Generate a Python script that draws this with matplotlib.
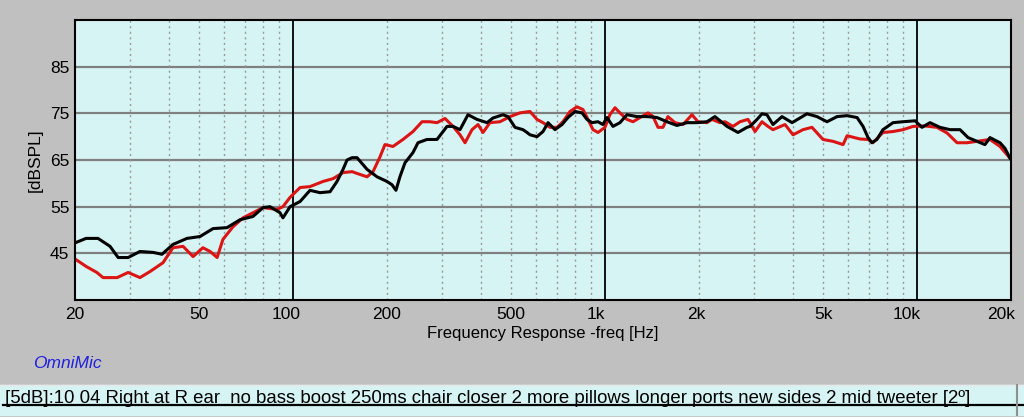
import matplotlib
matplotlib.use("Agg")
import matplotlib.pyplot as plt
from matplotlib.transforms import ScaledTranslation

# black trace (frequency Hz, dB SPL)
black_freq = [20.1, 21.7, 23.7, 25.9, 27.5, 29.6, 32.3, 35.6, 38.0, 41.2,
              45.7, 50.3, 55.4, 61.4, 67.6, 74.4, 80.1, 84.3, 90.8, 92.8,
              97.8, 105.3, 113.3, 122, 131.4, 138.3, 144.6, 148.9, 154.5, 160.3,
              172.6, 185.8, 200, 207.5, 213.7, 220, 228.4, 242.3, 251.4, 268.7,
              289.3, 311.4, 325.5, 342.8, 363.6, 388.6, 418.4, 437.2, 470.7, 488.4,
              514.3, 545.6, 561.9, 574.5, 605, 632.5, 656.3, 691, 727.7, 760.6,
              801, 843.4, 875, 908, 949, 984, 1014, 1060, 1116, 1175,
              1265, 1362, 1467, 1579, 1700, 1830, 1970, 2121, 2250, 2459,
              2667, 2850, 2915, 3069, 3183, 3302, 3452, 3690, 3975, 4437,
              4777, 5145, 5540, 5966, 6422, 6711, 6964, 7165, 7434, 7773,
              8372, 9017, 9850, 10370, 11000, 11840, 12750, 13730, 14570, 15560,
              16500, 17130, 18440, 19130, 19850]
black_db = [47.3, 48.2, 48.2, 46.5, 44.1, 44.1, 45.4, 45.2, 44.8, 46.9,
            48.2, 48.6, 50.3, 50.5, 52.2, 52.9, 54.8, 55.0, 53.7, 52.6,
            55.0, 56.1, 58.5, 58.0, 58.2, 60.4, 63.0, 65.0, 65.5, 65.5,
            63.0, 61.4, 60.4, 59.7, 58.5, 61.4, 64.4, 66.6, 68.7, 69.4,
            69.4, 72.2, 72.2, 71.5, 74.7, 73.7, 73.0, 74.0, 74.7, 74.3,
            72.0, 71.5, 70.9, 70.4, 70.0, 71.1, 73.0, 71.5, 72.6, 74.1,
            75.4, 75.1, 73.7, 73.0, 73.2, 72.6, 74.1, 72.2, 73.0, 74.7,
            74.3, 74.3, 74.1, 73.2, 72.4, 73.0, 73.0, 73.2, 74.3, 72.2,
            70.9, 72.0, 72.2, 73.7, 74.9, 74.7, 72.6, 74.3, 73.0, 74.9,
            74.3, 73.2, 74.3, 74.5, 74.1, 72.2, 69.8, 68.7, 69.4, 71.5,
            73.0, 73.2, 73.4, 72.0, 73.0, 72.0, 71.5, 71.5, 69.8, 69.0,
            68.3, 69.8, 68.7, 67.5, 65.4]

# red trace
red_freq = [20.1, 21.7, 23.5, 24.6, 27.3, 29.6, 32.3, 34.8, 38.3, 41.2,
            44.4, 47.8, 51.4, 54.2, 57.1, 59.6, 64.2, 69.1, 74.4, 80.1,
            88.8, 92.8, 97.8, 105.3, 113.3, 124.7, 134.3, 144.6, 154.5, 163.9,
            172.6, 180.4, 190, 197, 209, 225, 242.3, 259, 274.7, 289.3,
            306.9, 325.5, 342.8, 355.7, 374.5, 391.5, 406.2, 427.6, 460.4, 495.7,
            533.7, 574.5, 605, 632.5, 666, 701.4, 733, 771.9, 812.9, 849.7,
            881.5, 914.7, 949, 999, 1036, 1076, 1116, 1175, 1229, 1294,
            1373, 1425, 1478, 1533, 1590, 1675, 1777, 1899, 1985, 2121,
            2201, 2335, 2423, 2570, 2707, 2872, 3024, 3183, 3327, 3452,
            3773, 4004, 4309, 4604, 4994, 5378, 5792, 5966, 6564, 6964,
            7219, 7773, 8372, 9017, 9708, 10600, 11580, 12470, 13430, 14460,
            15560, 17130, 18440, 19850]
red_db = [43.7, 42.2, 40.9, 39.8, 39.8, 40.9, 39.8, 41.1, 43.0, 46.2,
          46.5, 44.3, 46.2, 45.4, 44.1, 48.0, 50.7, 52.6, 53.7, 54.8,
          54.4, 55.0, 57.0, 59.1, 59.3, 60.4, 61.0, 62.3, 62.5, 61.9,
          61.4, 62.5, 65.7, 68.3, 67.9, 69.4, 71.1, 73.2, 73.2, 73.0,
          73.9, 72.2, 70.4, 68.7, 71.5, 72.6, 70.9, 73.0, 73.2, 74.3,
          75.1, 75.4, 73.7, 73.0, 72.0, 72.0, 73.2, 75.4, 76.4, 75.8,
          73.7, 71.5, 70.9, 72.0, 74.7, 76.2, 75.1, 73.7, 73.2, 74.1,
          75.1, 74.3, 72.0, 72.0, 74.3, 73.0, 72.6, 74.7, 73.2, 73.0,
          73.7, 73.0, 73.2, 72.2, 73.2, 73.7, 71.1, 73.2, 72.2, 71.5,
          72.6, 70.4, 71.5, 72.0, 69.4, 69.0, 68.3, 70.2, 69.5, 69.4,
          68.7, 70.9, 71.1, 71.5, 72.2, 72.3, 72.0, 70.8, 68.7, 68.7,
          69.0, 69.4, 67.9, 65.4]

x_ticks = [20, 50, 100, 200, 500, 1000, 2000, 5000, 10000, 20000]
x_labels = ["20", "50", "100", "200", "500", "1k", "2k", "5k", "10k", "20k"]
label_shift_px = [0, 0, -7, 0, 0, -9, -3, 0, -10, -10]
y_ticks = [45, 55, 65, 75, 85]
decade_lines = [100, 1000, 10000]
dotted_lines = [30, 40, 50, 60, 70, 80, 90,
                200, 300, 400, 500, 600, 700, 800, 900,
                2000, 3000, 4000, 5000, 6000, 7000, 8000, 9000]

caption = ("[5dB]:10 04 Right at R ear  no bass boost 250ms chair closer 2 more "
           "pillows longer ports new sides 2 mid tweeter [2\u00ba]")

plt.rcParams["font.family"] = ["Liberation Sans", "DejaVu Sans"]

W, H = 1024, 417
fig = plt.figure(figsize=(W / 100, H / 100), dpi=100, facecolor="#c0c0c0")

# bottom caption strip
strip = fig.add_axes([0, 0, 1, 33 / H])
strip.set_xlim(0, W)
strip.set_ylim(0, 33)
strip.axis("off")
strip.axhspan(2, 32, color="#d6f4f4")
strip.axhline(32.5, color="#e8e8e8", lw=1)
strip.plot([3, W], [12, 12], color="black", lw=1.6)
strip.plot([1017, 1017], [2, 32], color="#909090", lw=1.5)
strip.text(5, 14, caption, fontsize=13.4, va="baseline", ha="left", color="black")

ax = fig.add_axes([75 / W, 1 - 300 / H, 936 / W, 280 / H])
ax.set_facecolor("#d6f4f4")
ax.set_xscale("log")
ax.set_xlim(20, 20000)
ax.set_ylim(35, 95)

for y in y_ticks:
    ax.axhline(y, color="#808080", lw=1.6, zorder=1)
for f in dotted_lines:
    ax.axvline(f, color="#999999", lw=1, ls=(0, (1.5, 2.5)), zorder=1)
for f in decade_lines:
    ax.axvline(f, color="black", lw=1.3, zorder=1)

ax.plot(black_freq, black_db, color="black", lw=2.2, zorder=3)
ax.plot(red_freq, red_db, color="#dc1414", lw=2.2, zorder=2)

ax.xaxis.set_minor_locator(plt.NullLocator())
ax.set_xticks(x_ticks)
ax.set_xticklabels(x_labels)
ax.set_yticks(y_ticks)
ax.tick_params(axis="both", length=0, labelsize=12.5, colors="black")
ax.tick_params(axis="x", pad=5)
ax.tick_params(axis="y", pad=4)
for lab, dx in zip(ax.get_xticklabels(), label_shift_px):
    lab.set_transform(lab.get_transform() + ScaledTranslation(dx / 100, 0, fig.dpi_scale_trans))

for s in ax.spines.values():
    s.set_color("black")
    s.set_linewidth(1.5)

ax.set_xlabel("Frequency Response -freq [Hz]", fontsize=12, labelpad=3)
ax.set_ylabel("[dBSPL]", fontsize=12.5, labelpad=5)

fig.text(33 / W, 1 - 363 / H, "OmniMic", color="#2020dd", fontsize=12.5,
         style="italic", va="center", ha="left")

fig.savefig("out.png", dpi=100, facecolor=fig.get_facecolor())
